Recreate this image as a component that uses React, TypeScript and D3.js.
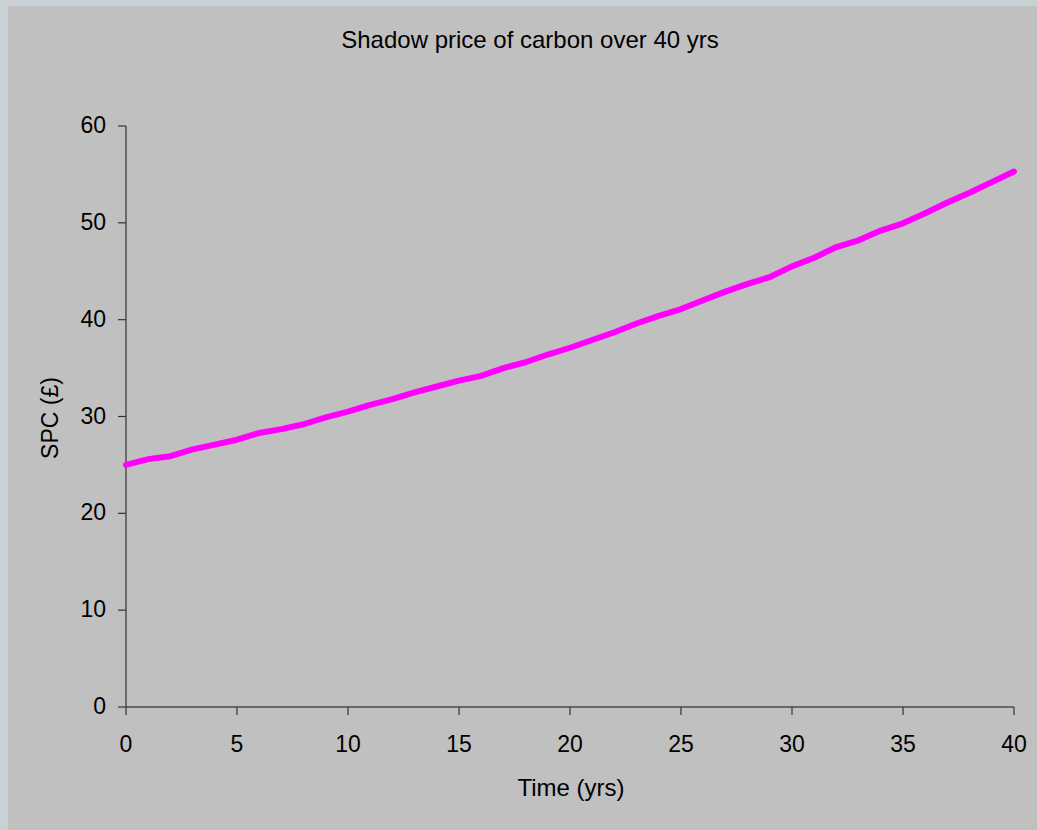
import React from "react";
import * as d3 from "d3";

// Shadow price of carbon (£) by year
const years: number[] = [
  0, 1, 2, 3, 4, 5, 6, 7, 8, 9, 10, 11, 12, 13, 14, 15, 16, 17, 18, 19, 20,
  21, 22, 23, 24, 25, 26, 27, 28, 29, 30, 31, 32, 33, 34, 35, 36, 37, 38, 39, 40,
];
const spc: number[] = [
  25.0, 25.6, 25.9, 26.6, 27.1, 27.6, 28.3, 28.7, 29.2, 29.9, 30.5,
  31.2, 31.8, 32.5, 33.1, 33.7, 34.2, 35.0, 35.6, 36.4, 37.1,
  37.9, 38.7, 39.6, 40.4, 41.1, 42.0, 42.9, 43.7, 44.4, 45.5,
  46.4, 47.5, 48.2, 49.2, 49.95, 51.0, 52.1, 53.1, 54.2, 55.3,
];
const xTicks: number[] = [0, 5, 10, 15, 20, 25, 30, 35, 40];
const yTicks: number[] = [0, 10, 20, 30, 40, 50, 60];

const title = "Shadow price of carbon over 40 yrs";
const xTitle = "Time (yrs)";
const yTitle = "SPC (£)";

export default function App() {
  const W = 1037;
  const H = 830;
  const left = 126;
  const right = 1014;
  const top = 126;
  const bottom = 707;

  const x = d3.scaleLinear().domain([0, 40]).range([left, right]);
  const y = d3.scaleLinear().domain([0, 60]).range([bottom, top]);

  const line = d3
    .line<number>()
    .x((_, i) => x(years[i]))
    .y((d) => y(d));

  const font = "'Liberation Sans', Arial, sans-serif";
  const tickSize = 23;

  return (
    <svg
      width={W}
      height={H}
      style={{ position: "absolute", left: 0, top: 0, display: "block" }}
      fontFamily={font}
    >
      <rect x={0} y={0} width={W} height={H} fill="#c9d1d5" />
      <rect x={8} y={6} width={W - 8} height={H - 6} fill="#c0c0c0" />

      <text x={530} y={48} textAnchor="middle" fontSize={24} fill="#000">
        {title}
      </text>

      {/* y axis */}
      <line x1={left} x2={left} y1={top} y2={bottom} stroke="#333" strokeWidth={1.2} />
      {yTicks.map((t) => (
        <g key={`y${t}`}>
          <line x1={left - 8} x2={left} y1={y(t)} y2={y(t)} stroke="#333" strokeWidth={1.2} />
          <text x={106} y={y(t) + 7} textAnchor="end" fontSize={tickSize} fill="#000">
            {t}
          </text>
        </g>
      ))}

      {/* x axis */}
      <line x1={left} x2={right} y1={bottom} y2={bottom} stroke="#111" strokeWidth={1.2} />
      {xTicks.map((t) => (
        <g key={`x${t}`}>
          <line x1={x(t)} x2={x(t)} y1={bottom} y2={bottom + 8} stroke="#333" strokeWidth={1.2} />
          <text x={x(t)} y={bottom + 45} textAnchor="middle" fontSize={tickSize} fill="#000">
            {t}
          </text>
        </g>
      ))}

      <text x={571} y={796} textAnchor="middle" fontSize={24} fill="#000">
        {xTitle}
      </text>
      <text
        transform={`translate(58,418) rotate(-90)`}
        textAnchor="middle"
        fontSize={23}
        fill="#000"
      >
        {yTitle}
      </text>

      <path
        d={line(spc) ?? ""}
        fill="none"
        stroke="#ff00ff"
        strokeWidth={6}
        strokeLinecap="round"
        strokeLinejoin="round"
      />
    </svg>
  );
}
